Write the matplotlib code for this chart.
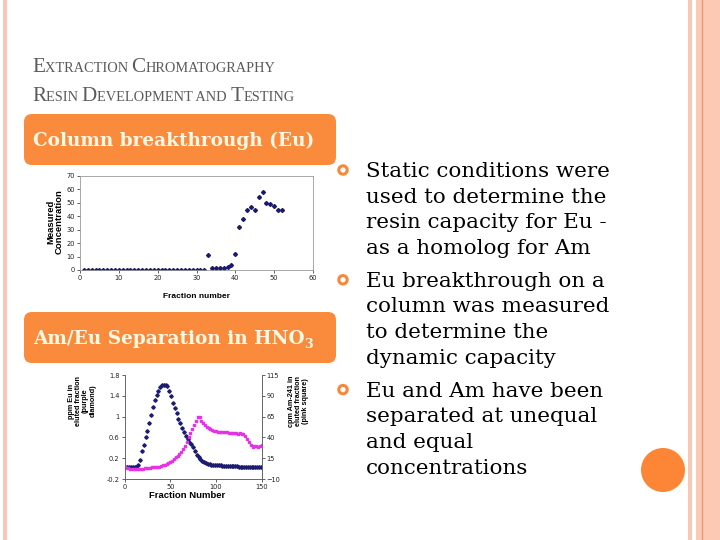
import matplotlib.pyplot as plt
from matplotlib.patches import FancyBboxPatch, Rectangle, Circle

# column breakthrough (Eu)
frac_top = list(range(1, 53))
conc_top = [0, 0, 0, 0, 0, 0, 0, 0, 0, 0,
            0, 0, 0, 0, 0, 0, 0, 0, 0, 0,
            0, 0, 0, 0, 0, 0, 0, 0, 0, 0,
            0, 0, 11, 1.5, 1.5, 1.5, 1.5, 2, 4, 12,
            32, 38, 45, 47, 45, 54, 58, 50, 49, 48,
            45, 45]

# Am/Eu separation in HNO3
frac_eu = list(range(1, 150, 2))
eu_ppm = [0.03, 0.03, 0.03, 0.03, 0.03, 0.03, 0.04, 0.06, 0.17, 0.33,
          0.46, 0.60, 0.73, 0.87, 1.03, 1.18, 1.32, 1.42, 1.50, 1.56,
          1.60, 1.61, 1.60, 1.58, 1.50, 1.40, 1.27, 1.17, 1.07, 0.96,
          0.87, 0.78, 0.70, 0.62, 0.56, 0.51, 0.47, 0.41, 0.34, 0.27,
          0.22, 0.18, 0.15, 0.12, 0.10, 0.09, 0.08, 0.07, 0.07, 0.06,
          0.06, 0.06, 0.06, 0.05, 0.05, 0.05, 0.05, 0.05, 0.05, 0.05,
          0.05, 0.05, 0.04, 0.04, 0.04, 0.04, 0.04, 0.04, 0.04, 0.04,
          0.04, 0.04, 0.04, 0.04, 0.04]
frac_am = list(range(0, 151, 2))
am_cpm = [4, 3, 3, 2, 2, 2, 2, 2, 2, 2,
          2, 3, 3, 3, 3, 4, 4, 4, 5, 5,
          6, 7, 7, 8, 9, 11, 12, 14, 16, 18,
          20, 23, 26, 30, 35, 40, 45, 50, 55, 60,
          64, 65, 60, 57, 55, 53, 51, 50, 49, 48,
          48, 47, 47, 46, 46, 46, 46, 45, 45, 45,
          45, 45, 44, 45, 44, 44, 42, 38, 34, 31,
          29, 30, 30, 29, 30, 31]

title_lines = [
    [("E", True), ("XTRACTION ", False), ("C", True), ("HROMATOGRAPHY", False)],
    [("R", True), ("ESIN ", False), ("D", True), ("EVELOPMENT AND ", False), ("T", True), ("ESTING", False)],
]
bullets = [
    ["Static conditions were", "used to determine the", "resin capacity for Eu -", "as a homolog for Am"],
    ["Eu breakthrough on a", "column was measured", "to determine the", "dynamic capacity"],
    ["Eu and Am have been", "separated at unequal", "and equal", "concentrations"],
]

W, H = 720, 540
orange = '#fa8b3c'
pink = '#f9c8b5'
fig = plt.figure(figsize=(7.2, 5.4), dpi=100)
bg = fig.add_axes([0, 0, 1, 1])
bg.set_zorder(-1)
bg.set_xlim(0, W)
bg.set_ylim(H, 0)
bg.axis('off')
renderer = fig.canvas.get_renderer()

# slide frame
bg.add_patch(Rectangle((3, 0), 4, H, color=pink, lw=0))
bg.add_patch(Rectangle((688, 0), 4, H, color=pink, lw=0))
bg.add_patch(Rectangle((696, 0), 24, H, color='#fcc9b4', lw=0))
bg.plot([702, 702], [0, H], color='#f0956e', lw=1)
bg.add_patch(Circle((663, 470), 22, color='#fd8636', lw=0))

# title in small caps
for line, y in zip(title_lines, [72, 101]):
    x = 32
    for s, big in line:
        t = bg.text(x, y, s, fontsize=15.2 if big else 10.4, family='Liberation Serif',
                    color='#5b5b5b', va='baseline')
        x += t.get_window_extent(renderer).width

# orange header boxes
for y0 in [114, 312]:
    bg.add_patch(FancyBboxPatch((24, y0), 312, 51, boxstyle="round,pad=0,rounding_size=8",
                                fc=orange, ec='none'))
box_font = dict(fontsize=13.3, family='DejaVu Serif', weight='bold', color='#fff8e4')
bg.text(33, 141, "Column breakthrough (Eu)", va='center', **box_font)
t = bg.text(33, 339, "Am/Eu Separation in HNO", va='center', **box_font)
x_sub = 33 + t.get_window_extent(renderer).width
bg.text(x_sub, 345, "3", va='center', fontsize=9, family='DejaVu Serif',
        weight='bold', color='#fff8e4')

# bullet list
y = 177
for item in bullets:
    bg.add_patch(Circle((343, y - 7), 4.2, fc='white', ec='#f5883a', lw=2.2))
    for line in item:
        bg.text(366, y, line, fontsize=15.4, family='DejaVu Serif', color='black', va='baseline')
        y += 25.7
    y += 7

# top chart
ax1 = fig.add_axes([80 / W, 1 - 270 / H, 233 / W, 94 / H])
ax1.plot(frac_top, conc_top, 'D', ms=2, color='#1b1b6e', ls='none')
ax1.set_xlim(0, 60)
ax1.set_ylim(0, 70)
ax1.set_xticks(range(0, 61, 10))
ax1.set_yticks(range(0, 71, 10))
ax1.tick_params(labelsize=4.8, length=2, width=0.5, pad=1.5, colors='#222222')
for sp in ax1.spines.values():
    sp.set_color('#9a9a9a')
    sp.set_linewidth(0.6)
ax1.text(-0.107, 0.51, "Measured\nConcentration", transform=ax1.transAxes, rotation=90,
         ha='center', va='center', fontsize=6.8, weight='bold', family='Liberation Sans',
         linespacing=1.0)
ax1.text(0.5, -0.287, "Fraction number", transform=ax1.transAxes, ha='center', va='center',
         fontsize=6, weight='bold', family='Liberation Sans')

# bottom chart with secondary axis
ax2 = fig.add_axes([124.5 / W, 1 - 479 / H, 137.2 / W, 104 / H])
ax2.plot(frac_eu, eu_ppm, 'D', ms=1.8, color='#1c1c72', ls='none')
ax2.set_xlim(0, 150)
ax2.set_ylim(-0.2, 1.8)
ax2.set_xticks([0, 50, 100, 150])
ax2.set_yticks([-0.2, 0.2, 0.6, 1, 1.4, 1.8])
ax2.set_yticklabels(['-0.2', '0.2', '0.6', '1', '1.4', '1.8'])
ax3 = ax2.twinx()
ax3.plot(frac_am, am_cpm, 's', ms=1.8, color='#e632e6', ls='none')
ax3.set_ylim(-10, 115)
ax3.set_yticks([-10, 15, 40, 65, 90, 115])
for a in [ax2, ax3]:
    a.tick_params(labelsize=4.8, length=2, width=0.5, pad=1.5, colors='#222222')
    a.spines['top'].set_visible(False)
    for sp in ['left', 'right', 'bottom']:
        a.spines[sp].set_color('#666666')
        a.spines[sp].set_linewidth(0.6)
ax2.text(-0.31, 0.75, "ppm Eu in\neluted fraction\n(purple\ndiamond)", transform=ax2.transAxes,
         rotation=90, ha='center', va='center', fontsize=5.2, weight='bold',
         family='Liberation Sans', linespacing=1.05)
ax2.text(1.27, 0.75, "cpm Am-241 in\neluted fraction\n(pink square)", transform=ax2.transAxes,
         rotation=90, ha='center', va='center', fontsize=5.2, weight='bold',
         family='Liberation Sans', linespacing=1.05)
ax2.text(0.46, -0.154, "Fraction Number", transform=ax2.transAxes, ha='center', va='center',
         fontsize=6.8, weight='bold', family='Liberation Sans')

fig.savefig('out.png', dpi=100)
